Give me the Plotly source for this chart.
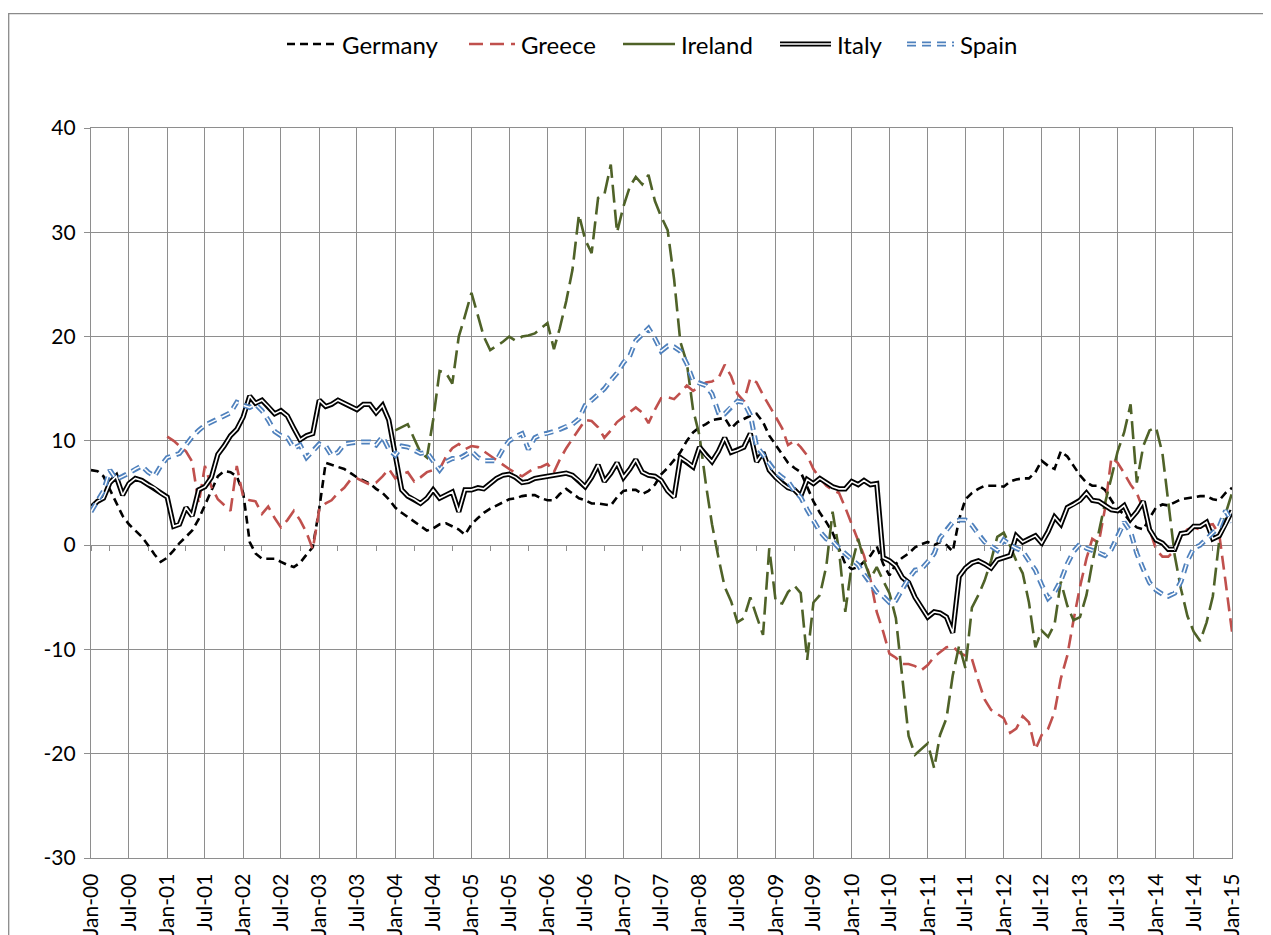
import pandas as pd
import plotly.graph_objects as go

# monthly observations, Jan-00 .. Jan-15
months = pd.date_range("2000-01-01", "2015-01-01", freq="MS")

germany = [
    7.2, 7.1, 6.6, 5.3, 4.0, 2.8, 2.0, 1.4, 0.8, 0.0, -0.9, -1.6,
    -1.2, -0.5, 0.2, 0.8, 1.4, 2.5, 3.8, 5.3, 6.6, 7.1, 7.0, 6.6,
    5.0, 0.3, -0.8, -1.3, -1.3, -1.3, -1.6, -1.9, -2.1, -1.7, -0.9, -0.2,
    3.5, 7.9, 7.7, 7.5, 7.3, 6.9, 6.5, 6.2, 5.9, 5.4, 5.0, 4.4,
    3.6, 3.1, 2.7, 2.3, 1.9, 1.4, 1.6, 2.0, 2.1, 1.8, 1.5, 1.0,
    2.0, 2.6, 3.1, 3.5, 3.8, 4.1, 4.4, 4.5, 4.7, 4.8, 4.8, 4.5,
    4.3, 4.3, 4.9, 5.4, 5.0, 4.5, 4.3, 4.0, 4.0, 3.9, 3.8, 4.6,
    5.2, 5.3, 5.3, 4.9, 5.2, 5.8, 6.8, 7.4, 8.2, 8.9, 10.0, 10.8,
    11.3, 11.6, 12.0, 12.1, 12.2, 11.2, 11.8, 12.1, 12.4, 12.6, 11.8, 10.5,
    9.6, 8.8, 7.9, 7.4, 7.0, 5.6, 4.2, 3.1, 2.2, 1.2, -0.3, -1.8,
    -2.3, -2.1, -1.6, -1.0, -0.1, -1.8, -2.9, -1.8, -1.2, -0.8, -0.2, 0.1,
    0.3, 0.0, 0.3, 0.0, -0.6, 2.5, 4.4, 5.0, 5.4, 5.7, 5.7, 5.7,
    5.6, 6.1, 6.3, 6.4, 6.4, 7.0, 8.1, 7.6, 7.3, 9.0, 8.5, 7.6,
    6.7, 6.0, 5.7, 5.7, 5.3, 4.3, 3.4, 3.0, 2.2, 1.7, 1.5, 2.6,
    3.6, 3.9, 3.8, 4.1, 4.4, 4.5, 4.6, 4.7, 4.7, 4.4, 4.3, 5.0, 5.5,
]

# Greece starts Jan-01
greece = [
    10.4, 10.0, 9.5, 9.0, 8.0, 4.0, 7.6, 5.6, 4.4, 3.9, 3.3, 7.6,
    4.6, 4.3, 4.2, 3.0, 3.7, 2.6, 1.7, 2.4, 3.3, 2.4, 1.2, -0.4,
    3.4, 4.0, 4.3, 5.0, 5.5, 6.3, 6.4, 6.1, 5.8, 6.0, 6.6, 7.3,
    6.4, 6.8, 7.0, 6.1, 6.5, 7.0, 7.2, 7.3, 8.5, 9.3, 9.7, 9.2,
    9.5, 9.4, 9.0, 8.6, 8.1, 7.7, 7.3, 6.9, 6.6, 7.0, 7.4, 7.5,
    7.8, 7.0, 8.2, 9.3, 10.2, 11.2, 12.0, 11.9, 11.3, 10.3, 11.0, 11.8,
    12.3, 12.8, 13.2, 12.7, 11.7, 13.0, 14.1, 14.2, 14.0, 14.6, 15.3, 14.8,
    15.2, 15.6, 15.7, 16.0, 17.3, 16.2, 14.5, 13.8, 16.0, 15.6, 14.4, 13.3,
    12.3, 11.2, 9.6, 10.0, 9.4, 8.6, 7.3, 6.4, 5.7, 5.3, 5.0, 3.6,
    2.0, 0.4, -1.0, -3.3, -6.4, -8.3, -10.4, -10.8, -11.4, -11.4, -11.6, -12.0,
    -11.5, -10.7, -10.3, -9.8, -9.7, -10.3, -10.6, -10.9, -13.0, -14.8, -15.8, -16.2,
    -16.6, -18.0, -17.6, -16.4, -17.0, -19.6, -18.2, -17.6, -16.0, -12.8, -10.6, -7.2,
    -4.0, -1.3, 0.6, 0.2, 3.5, 8.4, 7.9, 6.9, 5.8, 5.0, 3.4, 1.5,
    -0.4, -1.1, -1.1, -0.5, 0.9, 1.5, 1.7, 1.5, 1.9, 2.0, 1.0, -3.5, -8.3,
]

# Ireland starts Jan-04
ireland = [
    11.0, 11.3, 11.6, 10.2, 8.9, 8.4, 12.0, 16.7, 16.5, 15.5, 20.0, 22.0,
    24.2, 22.0, 20.0, 18.7, 19.1, 19.5, 20.0, 19.6, 20.0, 20.1, 20.3, 20.8,
    21.3, 18.8, 20.8, 23.4, 26.4, 31.7, 29.3, 28.0, 33.3, 33.6, 36.5, 30.0,
    32.5, 34.4, 35.3, 34.6, 35.5, 33.0, 31.5, 30.2, 25.5, 19.5, 17.5, 13.0,
    10.5, 5.8, 2.0, -1.2, -4.0, -5.4, -7.4, -7.0, -5.0, -6.8, -8.6, -0.3,
    -5.4, -5.6, -4.5, -3.9, -4.6, -11.0, -5.5, -4.8, -2.0, 3.2, -0.5, -6.4,
    -1.9, 0.6, -1.5, -3.2, -2.1, -3.4, -4.6, -7.0, -12.8, -18.3, -20.1, -19.6,
    -19.0, -21.4, -18.2, -16.6, -12.5, -9.6, -11.8, -6.0, -4.8, -3.4, -1.5, 0.8,
    1.2, -0.1, -1.5, -2.7, -5.5, -9.8, -8.2, -8.8, -7.6, -3.5, -5.8, -7.2,
    -6.9, -4.8, -1.7, 1.2, 4.0, 6.5, 9.0, 10.8, 13.5, 6.0, 9.5, 11.0,
    11.3, 8.8, 4.0, -1.0, -4.2, -6.8, -8.3, -9.2, -7.4, -4.9, 0.5, 3.0, 5.0,
]

italy = [
    3.6, 4.2, 4.5, 6.0, 6.6, 4.8, 5.9, 6.4, 6.2, 5.8, 5.5, 5.0,
    4.6, 1.8, 2.0, 3.6, 2.8, 5.3, 5.6, 6.5, 8.7, 9.5, 10.5, 11.1,
    12.3, 14.3, 13.6, 13.9, 13.3, 12.6, 12.9, 12.4, 11.2, 10.1, 10.5, 10.7,
    13.9, 13.3, 13.5, 13.9, 13.6, 13.3, 13.0, 13.5, 13.5, 12.7, 13.4, 12.0,
    8.6, 5.3, 4.7, 4.4, 4.0, 4.5, 5.3, 4.5, 4.8, 5.1, 3.2, 5.3,
    5.3, 5.5, 5.4, 5.9, 6.4, 6.7, 6.8, 6.5, 6.0, 6.1, 6.4, 6.5,
    6.6, 6.7, 6.8, 6.9, 6.7, 6.2, 5.6, 6.5, 7.7, 6.1, 6.9, 7.9,
    6.5, 7.3, 8.2, 7.0, 6.7, 6.6, 6.2, 5.2, 4.6, 8.4, 8.0, 7.5,
    9.4, 8.6, 8.0, 9.0, 10.3, 8.9, 9.1, 9.4, 10.7, 8.0, 8.9, 7.2,
    6.5, 5.9, 5.5, 5.3, 4.7, 6.3, 5.9, 6.4, 6.0, 5.6, 5.4, 5.4,
    6.1, 5.8, 6.2, 5.8, 5.9, -1.2, -1.5, -2.0, -3.1, -3.6, -5.0, -5.9,
    -6.9, -6.4, -6.5, -6.9, -8.4, -3.0, -2.2, -1.7, -1.5, -1.8, -2.2, -1.4,
    -1.2, -1.0, 0.9, 0.3, 0.6, 0.9, 0.2, 1.3, 2.7, 2.0, 3.6, 3.9,
    4.3, 5.0, 4.3, 4.2, 3.8, 3.4, 3.3, 3.8, 2.5, 3.2, 4.2, 1.5,
    0.5, 0.2, -0.4, -0.4, 1.1, 1.2, 1.8, 1.8, 2.2, 0.6, 0.9, 2.0, 3.3,
]

spain = [
    3.2, 4.3, 5.2, 7.2, 6.3, 6.6, 6.9, 7.3, 7.6, 7.0, 6.6, 7.6,
    8.4, 8.6, 8.8, 9.6, 10.4, 11.0, 11.5, 11.8, 12.1, 12.4, 12.7, 13.7,
    13.4, 13.2, 13.5, 12.9, 12.0, 10.9, 10.5, 10.3, 9.3, 9.6, 8.4, 9.0,
    9.7, 9.5, 8.6, 8.9, 9.7, 9.8, 9.9, 9.9, 9.9, 9.6, 10.4, 9.2,
    8.6, 9.5, 9.4, 9.1, 8.8, 8.9, 8.1, 7.2, 8.0, 8.3, 8.3, 8.6,
    9.0, 8.4, 8.1, 8.1, 8.1, 9.2, 10.0, 10.4, 10.7, 9.2, 10.3, 10.6,
    10.7, 10.9, 11.1, 11.4, 11.6, 12.1, 13.4, 13.9, 14.5, 15.0, 15.8, 16.5,
    17.5, 18.2, 19.6, 20.2, 20.8, 19.8, 18.6, 19.1, 19.0, 18.6, 17.4, 15.8,
    15.5, 15.3, 14.5, 12.7, 12.6, 13.3, 13.8, 13.7, 12.5, 9.5, 8.7, 7.8,
    7.0, 6.5, 6.1, 5.2, 4.6, 3.4, 2.4, 1.3, 0.6, 0.4, -0.3, -0.8,
    -1.3, -1.9, -2.8, -3.6, -4.5, -4.9, -5.5, -5.3, -4.2, -3.2, -2.4, -2.3,
    -1.6, -0.8, 0.7, 1.4, 2.2, 2.4, 2.4, 1.9, 1.0, 0.3, -0.1, -0.5,
    0.5, 0.0, -0.3, -0.6, -1.5, -2.4, -3.8, -5.1, -4.5, -3.4, -1.8, -0.6,
    0.1, -0.3, -0.5, -0.7, -1.0, -0.4, 0.8, 2.2, 1.3, -0.8, -2.3, -3.6,
    -4.3, -4.7, -4.9, -4.6, -3.5, -1.5, -0.3, 0.0, 0.6, 1.2, 1.8, 3.3, 2.2,
]

y_ticks = [-30, -20, -10, 0, 10, 20, 30, 40]

FONT = "Lato"
GRID = "#8e8e8e"
BLACK = "#000000"
RED = "#c0504d"
GREEN = "#4f6228"
BLUE = "#4f81bd"

# the page body has an 8px margin, so work in page pixels and shift
OFF = 8
W, H = 1271 - OFF, 935 - OFF
L, R, T, B = 91 - OFF, 1232 - OFF, 128 - OFF, 858 - OFF   # plot area


def px(x):
    return (x - OFF - L) / (R - L)


def py(y):
    return (B - (y - OFF)) / (B - T)


fig = go.Figure()


def add_line(x, y, color, width, dash):
    fig.add_trace(go.Scatter(x=x, y=y, mode="lines", showlegend=False,
                             hoverinfo="skip",
                             line=dict(color=color, width=width, dash=dash)))


add_line(months, germany, BLACK, 2.6, "8px,5px")
add_line(months[12:], greece, RED, 2.6, "14px,7px")
add_line(months[48:], ireland, GREEN, 2.6, "18px,7px")
add_line(months, italy, BLACK, 5.2, "solid")
add_line(months, italy, "white", 1.6, "solid")
add_line(months, spain, BLUE, 5.0, "9px,6px")
add_line(months, spain, "white", 1.5, "9px,6px")

# invisible trace so the zero-line tick axis is always drawn
fig.add_trace(go.Scatter(x=months, y=germany, xaxis="x2", mode="lines",
                         line=dict(width=0), showlegend=False, hoverinfo="skip"))

# legend drawn by hand so the double lines look right
shapes = []
annotations = []
legend_y = 44
items = [
    ("Germany", 287, 336, [(BLACK, 2.6, "8px,5px")]),
    ("Greece", 469, 515, [(RED, 2.6, "14px,7px")]),
    ("Ireland", 623, 675, [(GREEN, 2.6, "solid")]),
    ("Italy", 780, 831, [(BLACK, 5.2, "solid"), ("white", 1.6, "solid")]),
    ("Spain", 907, 954, [(BLUE, 5.0, "9px,6px"), ("white", 1.5, "9px,6px")]),
]
for name, x0, x1, styles in items:
    for col, wd, ds in styles:
        shapes.append(dict(type="line", xref="paper", yref="paper",
                           x0=px(x0), x1=px(x1), y0=py(legend_y), y1=py(legend_y),
                           line=dict(color=col, width=wd, dash=ds)))
    annotations.append(dict(text=name, xref="paper", yref="paper",
                            x=px(x1 + 4), y=py(legend_y), xanchor="left",
                            yanchor="middle", showarrow=False,
                            font=dict(family=FONT, size=24, color=BLACK)))

# outer chart border
shapes.append(dict(type="rect", xref="paper", yref="paper", layer="below",
                   x0=px(8.7), x1=px(1268), y0=py(1000), y1=py(13.7),
                   line=dict(color="#8a8a8a", width=1.3)))

fig.update_layout(
    width=W, height=H, autosize=False,
    margin=dict(l=L, r=W - R, t=T, b=H - B, autoexpand=False),
    paper_bgcolor="white", plot_bgcolor="white",
    font=dict(family=FONT, size=21, color=BLACK),
    shapes=shapes, annotations=annotations,
    xaxis=dict(type="date", range=[months[0], months[-1]],
               tick0=months[0], dtick="M6", tickformat="%b-%y",
               tickangle=-90, ticks="", showgrid=True, gridcolor=GRID,
               gridwidth=1.3, showline=True, linecolor=GRID, linewidth=1.3,
               mirror=True, zeroline=False, ticklabelstandoff=6,
               automargin=False, tickfont=dict(family=FONT, size=21)),
    xaxis2=dict(type="date", overlaying="x", matches="x", anchor="free",
                position=30 / 70, range=[months[0], months[-1]],
                tick0=months[0], dtick="M3", ticks="outside", ticklen=5,
                tickcolor=GRID, tickwidth=1.3, showticklabels=False,
                showgrid=False, showline=False, zeroline=False,
                automargin=False),
    yaxis=dict(range=[-30, 40], tickmode="array", tickvals=y_ticks,
               ticktext=[str(v) for v in y_ticks],
               ticks="outside", ticklen=6,
               tickcolor=GRID, tickwidth=1.3, showgrid=True, gridcolor=GRID,
               gridwidth=1.3, showline=True, linecolor=GRID, linewidth=1.3,
               mirror=True, zeroline=False, ticklabelstandoff=4,
               automargin=False, tickfont=dict(family=FONT, size=21)),
)

fig.write_html("out.html")
